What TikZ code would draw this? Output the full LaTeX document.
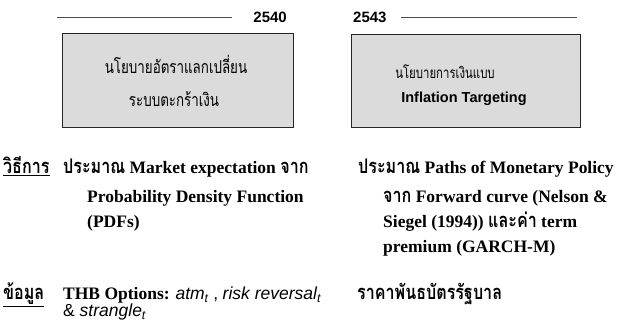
\documentclass[tikz,border=0pt]{standalone}
\usepackage{fontspec}
\usepackage{graphicx}
\setmainfont{Liberation Serif}
\setsansfont{Liberation Sans}
\newfontfamily\thai[Script=Thai,Scale=1.15]{Loma}
\newfontfamily\thaibox[Script=Thai]{Loma}
\newcommand\T[1]{\scalebox{0.8}[1]{\thai #1}}
\newcommand\TB[2]{\scalebox{0.75}[1]{\thaibox\fontsize{#1}{#1}\selectfont #2}}
\newcommand\sv[2]{{\sffamily\mdseries\itshape #1\textsubscript{#2}}}
\begin{document}
\begin{tikzpicture}[x=1pt,y=-1pt]
\tikzset{
 yearlbl/.style={font=\sffamily\bfseries\fontsize{15}{18}\selectfont, inner sep=0},
 rule/.style={draw=black!70, line width=0.8pt},
 policybox/.style={draw=black!85, fill=black!14, line width=0.8pt, anchor=north west, inner sep=0},
 boxtext/.style={align=center, inner sep=0},
 body/.style={font=\bfseries\fontsize{17.5}{26}\selectfont, anchor=base west, inner sep=0},
}
\useasboundingbox (0,0) rectangle (630,331);
% years and rules
\node[yearlbl, anchor=east] (y1) at (287,17) {2540};
\node[yearlbl, anchor=west] (y2) at (353,17) {2543};
\coordinate (l1a) at (57,17); \coordinate (l1b) at (232,17);
\coordinate (l2a) at (401,17); \coordinate (l2b) at (577,17);
\draw[rule] (l1a) -- (l1b);
\draw[rule] (l2a) -- (l2b);
% boxes
\node[policybox, minimum width=231pt, minimum height=94pt] (b1) at (62,33) {};
\node[policybox, minimum width=229pt, minimum height=93pt] (b2) at (351,34) {};
\node[boxtext] (b1a) at (176,64) {\TB{17.8}{นโยบายอัตราแลกเปลี่ยน}};
\node[boxtext] (b1b) at (174,99) {\TB{17.8}{ระบบตะกร้าเงิน}};
\node[boxtext] (b2a) at (445,72) {\TB{15.2}{นโยบายการเงินแบบ}};
\node[boxtext, font=\sffamily\bfseries\fontsize{14.5}{18}\selectfont] (b2b) at (464,99) {Inflation Targeting};
% method
\node[body] (m0) at (3,174) {\underline{\T{วิธีการ}}};
\node[body] (m1) at (63,174) {\T{ประมาณ} Market expectation \T{จาก}};
\node[body] (m2) at (87,203) {Probability Density Function};
\node[body] (m3) at (87,228) {(PDFs)};
\node[body] (r1) at (358,174) {\T{ประมาณ} Paths of Monetary Policy};
\node[body] (r2) at (383,203) {\T{จาก} Forward curve (Nelson \&};
\node[body] (r3) at (383,228) {Siegel (1994)) \T{และค่า} term};
\node[body] (r4) at (383,253) {premium (GARCH-M)};
% data
\node[body] (d0) at (3,300) {\underline{\T{ข้อมูล}}};
\node[body, font=\bfseries\fontsize{17.5}{20}\selectfont] (d1) at (63,300) {THB Options: \sv{atm}{t}{\sffamily\mdseries\ ,} \sv{risk reversal}{t}};
\node[body, font=\sffamily\fontsize{17.5}{20}\selectfont] (d2) at (63,317) {\& \sv{strangle}{t}};
\node[body] (d3) at (357,300) {\T{ราคาพันธบัตรรัฐบาล}};
\end{tikzpicture}
\end{document}
